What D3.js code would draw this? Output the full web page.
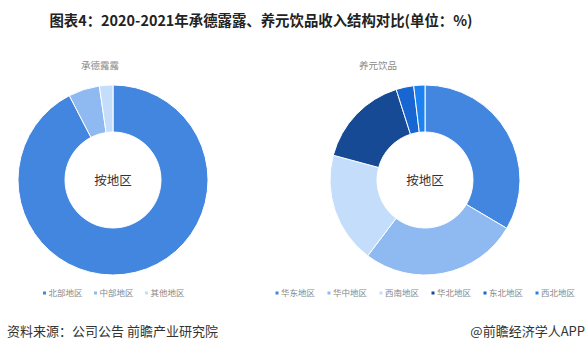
<!DOCTYPE html>
<html>
<head>
<meta charset="utf-8">
<script src="https://cdn.jsdelivr.net/npm/d3@7"></script>
<style>
	body { margin: 0; background: #fff; }
	svg { display: block; font-family: "Noto Sans CJK SC", "Noto Sans", sans-serif; }
</style>
</head>
<body>
<svg id="chart"></svg>
<script>
// data (%)
const leftTitle = "承德露露";
const leftRegions = ["北部地区", "中部地区", "其他地区"];
const leftValues = [92.4, 5.3, 2.3];
const leftColors = ["#4286e0", "#8fb9f1", "#c4ddfb"];

const rightTitle = "养元饮品";
const rightRegions = ["华东地区", "华中地区", "西南地区", "华北地区", "东北地区", "西北地区"];
const rightValues = [33.5, 26.8, 18.9, 15.9, 3.0, 1.9];
const rightColors = ["#4286e0", "#8fb9f1", "#c4ddfb", "#174a94", "#1766d2", "#1b82f0"];

const width = 588, height = 352;

const svg = d3.select("#chart")
	.attr("width", width)
	.attr("height", height);

// title
svg.append("text")
	.attr("x", 261)
	.attr("y", 26)
	.attr("text-anchor", "middle")
	.style("font-size", "14.4px")
	.style("font-weight", "bold")
	.style("fill", "#222")
	.text("图表4：2020-2021年承德露露、养元饮品收入结构对比(单位：%)");

function drawDonut(cx, cy, title, titleX, names, values, colors, legendX, legendStep) {
	const g = svg.append("g").attr("transform", `translate(${cx},${cy})`);

	const pie = d3.pie().sort(null).value(d => d);
	const arc = d3.arc().innerRadius(48).outerRadius(95);

	g.selectAll("path")
		.data(pie(values))
		.enter()
		.append("path")
		.attr("d", arc)
		.style("fill", (d, i) => colors[i])
		.style("stroke", "#fff")
		.style("stroke-width", 1);

	g.append("text")
		.attr("x", 0)
		.attr("y", 4.5)
		.attr("text-anchor", "middle")
		.style("font-size", "12.5px")
		.style("fill", "#333")
		.text("按地区");

	svg.append("text")
		.attr("x", titleX)
		.attr("y", 69)
		.attr("text-anchor", "middle")
		.style("font-size", "9.5px")
		.style("fill", "#888")
		.text(title);

	// legend
	const x = d3.scalePoint().domain(names).range([legendX, legendX + legendStep * (names.length - 1)]);
	const items = svg.selectAll(null)
		.data(names)
		.enter()
		.append("g")
		.attr("transform", d => `translate(${x(d)},293)`);

	items.append("rect")
		.attr("x", -1.5)
		.attr("y", -1.5)
		.attr("width", 3)
		.attr("height", 3)
		.style("fill", (d, i) => colors[i]);

	items.append("text")
		.attr("x", 4)
		.attr("y", 3)
		.style("font-size", "8.5px")
		.style("fill", "#888")
		.text(d => d);
}

drawDonut(113, 180, leftTitle, 100, leftRegions, leftValues, leftColors, 44.5, 51);
drawDonut(425, 180, rightTitle, 378, rightRegions, rightValues, rightColors, 277, 52);

// footer
svg.append("text")
	.attr("x", 7)
	.attr("y", 336)
	.style("font-size", "13px")
	.style("fill", "#333")
	.text("资料来源：公司公告 前瞻产业研究院");

svg.append("text")
	.attr("x", 585)
	.attr("y", 336)
	.attr("text-anchor", "end")
	.style("font-size", "13px")
	.style("fill", "#333")
	.text("@前瞻经济学人APP");
</script>
</body>
</html>
